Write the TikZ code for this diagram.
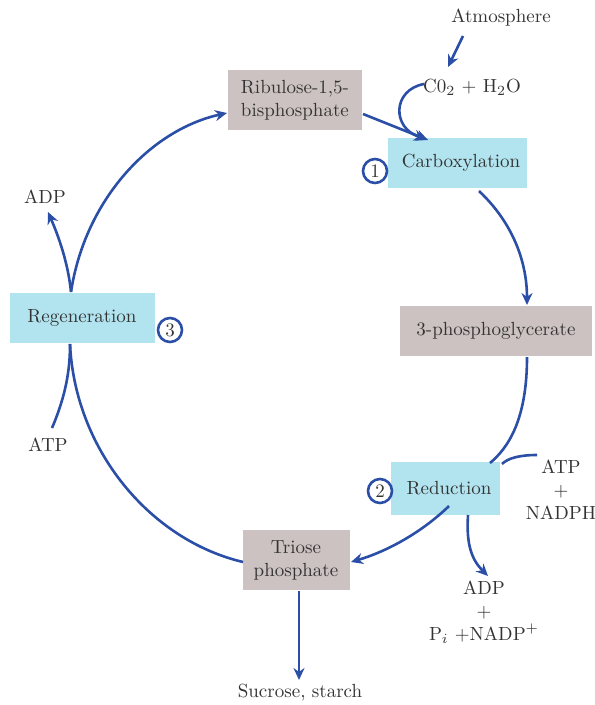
\documentclass[tikz,border=0pt]{standalone}
\usetikzlibrary{arrows.meta}
\definecolor{arr}{HTML}{2B4FA6}
\definecolor{graybox}{HTML}{CDC2C2}
\definecolor{cyanbox}{HTML}{B2E4EF}
\definecolor{txt}{HTML}{333333}
\begin{document}
\begin{tikzpicture}[x=0.5pt,y=-0.5pt,
  every node/.style={font=\fontsize{9.5}{11.5}\selectfont, text=txt},
  gbox/.style={fill=graybox, draw=none, inner sep=0pt, align=center},
  cbox/.style={fill=cyanbox, draw=none, inner sep=0pt, align=center},
  num/.style={circle, draw=arr, line width=1.3pt, fill=white, minimum size=12pt, inner sep=0pt},
  flow/.style={draw=arr, line width=1.3pt},
  flowa/.style={flow, -{Stealth[length=6pt,width=5.5pt]}}]
\useasboundingbox (0,0) rectangle (594,705);
% boxes
\node[gbox, minimum width=67pt, minimum height=30pt, align=left] (rubp) at (295,100) {Ribulose-1,5-\\bisphosphate};
\node[cbox, minimum width=69.5pt, minimum height=25pt] (carb) at (457,163) {\hspace*{4pt}Carboxylation};
\node[gbox, minimum width=96pt, minimum height=25pt] (pga) at (496,331) {3-phosphoglycerate};
\node[cbox, minimum width=54.5pt, minimum height=26.5pt] (red) at (445,488) {\hspace*{4pt}Reduction};
\node[gbox, minimum width=53.5pt, minimum height=30pt] (tri) at (296,560) {Triose\\phosphate};
\node[cbox, minimum width=72.5pt, minimum height=25pt] (regen) at (82,318) {Regeneration};
% numbers
\node[num] (n1) at (375,171) {1};
\node[num] (n2) at (380,491) {2};
\node[num] (n3) at (170,330) {3};
% labels
\node (atm) at (501,18) {Atmosphere};
\node (co2) at (472,87) {C0$_2$ + H$_2$O};
\node (adp1) at (45,197) {ADP};
\node (atp1) at (48,445) {ATP};
\node[align=center] (atp2) at (561,490) {ATP\\+\\NADPH};
\node[align=center] (adp2) at (484,612) {ADP\\+\\P$_i$ +NADP$^+$};
\node (suc) at (300,693) {Sucrose, starch};
% helper coordinates
\coordinate (atmS) at (463,36);
\coordinate (co2W) at (424,84);
\coordinate (carbT) at (428,140);
\coordinate (carbT2) at (426,139);
\coordinate (rubpE) at (363,114);
\coordinate (rubpW) at (227,113);
\coordinate (carbB) at (479,191);
\coordinate (pgaT) at (527,305);
\coordinate (pgaB) at (527,357);
\coordinate (redT) at (490,463);
\coordinate (atp2W) at (537,455);
\coordinate (redTR) at (502,464);
\coordinate (redB) at (468,515);
\coordinate (adp2N) at (488,576);
\coordinate (redBL) at (449,506);
\coordinate (triE) at (351,562);
\coordinate (triB) at (299,591);
\coordinate (sucN) at (299,680);
\coordinate (triW) at (243,562);
\coordinate (regenB) at (70,344);
\coordinate (regenT) at (71,292);
\coordinate (adp1S) at (48,212);
\coordinate (atp1N) at (52,428);
% arrows
\draw[flowa] (atmS) -- (448,67);
\draw[flowa] (co2W) .. controls (392,90) and (392,128) .. (carbT2);
\draw[flowa] (rubpE) -- (carbT);
\draw[flowa] (carbB) .. controls (515,225) and (527,265) .. (pgaT);
\draw[flow] (pgaB) .. controls (527,420) and (508,448) .. (redT);
\draw[flow] (atp2W) .. controls (520,455) and (508,458) .. (redTR);
\draw[flowa] (redB) .. controls (466,545) and (472,560) .. (adp2N);
\draw[flowa] (redBL) .. controls (420,534) and (385,552) .. (triE);
\draw[flowa] (triB) -- (sucN);
\draw[flow] (triW) .. controls (150,540) and (75,450) .. (regenB);
\draw[flow] (atp1N) .. controls (66,395) and (70,370) .. (regenB);
\draw[flowa] (regenT) .. controls (68,262) and (58,235) .. (adp1S);
\draw[flowa] (regenT) .. controls (85,200) and (150,130) .. (rubpW);
\end{tikzpicture}
\end{document}
